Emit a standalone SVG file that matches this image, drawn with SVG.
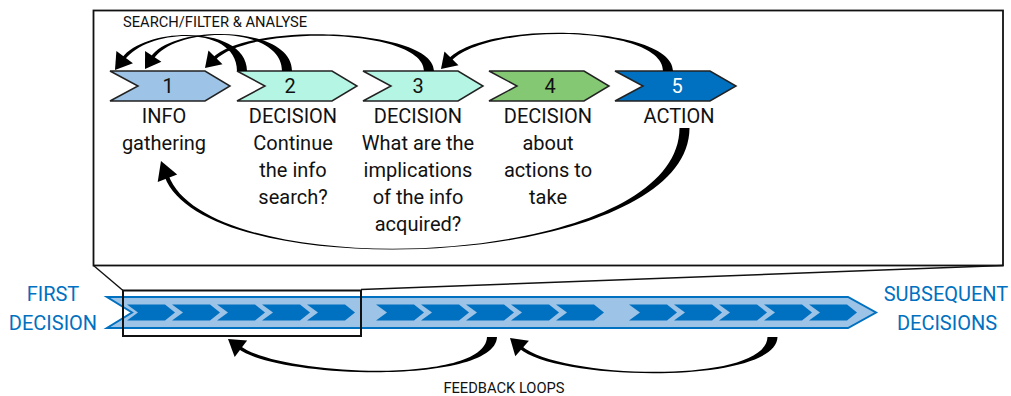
<svg xmlns="http://www.w3.org/2000/svg" width="1011" height="396" viewBox="0 0 1011 396">
<style>
text{font-family:Roboto,"Liberation Sans",sans-serif;}
.lbl{font-size:20px;fill:#111;text-anchor:middle;}
.num{font-size:20px;fill:#111;text-anchor:middle;}
.small{font-size:14.7px;fill:#111;}
.blue{font-size:20px;fill:#0070C0;text-anchor:middle;}
.chev{stroke:#222;stroke-width:1.5;stroke-linejoin:miter;}
.arr{fill:#000;stroke:none;}
.frame{fill:none;stroke:#111;stroke-width:1.8;}
.zoomline{fill:none;stroke:#111;stroke-width:1.4;}
</style>
<defs>
<path id="sc" d="M0,304.5 L38,304.5 L48,312.5 L38,320.5 L0,320.5 L11,312.5 Z" fill="#0070C0"/>
</defs>
<rect id="bg" x="0" y="0" width="1011" height="396" fill="#fff"/>

<g id="frame">
<rect class="frame" x="93.5" y="10.5" width="909.5" height="255"/>
</g>

<text class="small" x="123" y="27">SEARCH/FILTER &amp; ANALYSE</text>

<g id="node1">
<path class="chev" d="M110,71 L205,71 L230,86 L205,101 L110,101 L138,86 Z" fill="#9DC3E6"/>
<text class="num" x="168" y="93">1</text>
<text class="lbl" x="164" y="123">INFO</text>
<text class="lbl" x="164" y="150">gathering</text>
</g>
<g id="node2">
<path class="chev" d="M237,71 L332,71 L357,86 L332,101 L237,101 L265,86 Z" fill="#B5F5E4"/>
<text class="num" x="290" y="93">2</text>
<text class="lbl" x="293" y="123">DECISION</text>
<text class="lbl" x="293" y="150">Continue</text>
<text class="lbl" x="293" y="177">the info</text>
<text class="lbl" x="293" y="204">search?</text>
</g>
<g id="node3">
<path class="chev" d="M363,71 L458,71 L483,86 L458,101 L363,101 L391,86 Z" fill="#B5F5E4"/>
<text class="num" x="418" y="93">3</text>
<text class="lbl" x="418" y="123">DECISION</text>
<text class="lbl" x="418" y="150">What are the</text>
<text class="lbl" x="418" y="177">implications</text>
<text class="lbl" x="418" y="204">of the info</text>
<text class="lbl" x="418" y="231">acquired?</text>
</g>
<g id="node4">
<path class="chev" d="M489,71 L584,71 L609,86 L584,101 L489,101 L517,86 Z" fill="#84C873"/>
<text class="num" x="550" y="93">4</text>
<text class="lbl" x="548" y="123">DECISION</text>
<text class="lbl" x="548" y="150">about</text>
<text class="lbl" x="548" y="177">actions to</text>
<text class="lbl" x="548" y="204">take</text>
</g>
<g id="node5">
<path class="chev" d="M615,71 L710,71 L736,86 L710,101 L615,101 L643,86 Z" fill="#0070C0"/>
<text class="num" x="677" y="93" style="fill:#fff">5</text>
<text class="lbl" x="679" y="123">ACTION</text>
</g>

<g id="band">
<path d="M107,297 L848,297 L876,312.5 L848,328 L107,328 L132,312.5 Z" fill="#9DC3E6" stroke="#0070C0" stroke-width="2"/>
<use href="#sc" x="127"/><use href="#sc" x="172"/><use href="#sc" x="217"/><use href="#sc" x="262"/><use href="#sc" x="307"/>
<use href="#sc" x="376"/><use href="#sc" x="421"/><use href="#sc" x="466"/><use href="#sc" x="511"/><use href="#sc" x="556"/>
<use href="#sc" x="629"/><use href="#sc" x="674"/><use href="#sc" x="719"/><use href="#sc" x="764"/><use href="#sc" x="809"/>
<rect x="123" y="290.5" width="238" height="45.5" fill="none" stroke="#111" stroke-width="2"/>
</g>

<g id="first">
<text class="blue" x="53" y="301">FIRST</text>
<text class="blue" x="53" y="330">DECISION</text>
</g>
<g id="subsequent">
<text class="blue" x="946" y="301">SUBSEQUENT</text>
<text class="blue" x="947" y="330">DECISIONS</text>
</g>

<g id="connectors">
<path class="zoomline" d="M93.5,265.5 L123,290.5"/>
<path class="zoomline" d="M361,289.5 L1003,265.5"/>
<path class="arr" d="M247,71 C247,25 146,25.75 122,57.75 L124.8,59.85 C148.8,27.85 237,25 237,71 Z"/>
<path class="arr" d="M116.38,50.91 L132.94,63.33 L115,70 Z"/>
<path class="arr" d="M292,71 C292,25 172.7,23.74 150.7,57.1 L153.6,59.1 C175.6,25.66 282,25 282,71 Z"/>
<path class="arr" d="M145.06,51.06 L161.39,61.87 L145,69 Z"/>
<path class="arr" d="M434,71 C434,28 247.85,21.8 212.85,57.5 L215.35,59.9 C250.35,24.2 424,28 424,71 Z"/>
<path class="arr" d="M208.45,50.46 L222.48,64.15 L205,68 Z"/>
<path class="arr" d="M673,71 C673,26 487.35,19.2 448.85,58.5 L451.35,60.9 C489.85,21.6 663,26 663,71 Z"/>
<path class="arr" d="M444.45,51.46 L458.48,65.15 L441,69 Z"/>
<path class="arr" d="M679.5,128 C679,270 210.5,288.1 168.5,175.3 L164.7,176.7 C206.7,289.5 689,270 689.5,128 Z"/>
<path class="arr" d="M177.2,174.6 L157.7,181.9 L161,161 Z"/>
<path class="arr" d="M487,337 C485,385 280.25,376 240.25,346 L238.15,348.8 C278.15,378.8 495,385 497,337 Z"/>
<path class="arr" d="M247.1,340.4 L234.7,356.9 L228,339 Z"/>
<path class="arr" d="M767.5,337 C766,385 559.2,378.9 521.7,345.9 L519.3,348.5 C556.8,381.5 776,385 777.5,337 Z"/>
<path class="arr" d="M528.9,340.8 L515.3,356.3 L510,338 Z"/>
</g>

<text class="small" x="504" y="393" text-anchor="middle">FEEDBACK LOOPS</text>
</svg>
